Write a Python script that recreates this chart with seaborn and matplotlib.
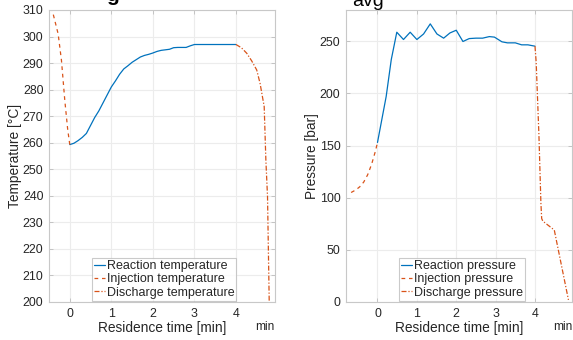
import matplotlib
matplotlib.use("Agg")
import matplotlib.pyplot as plt
import seaborn as sns
import pandas as pd

# ---- data ----
t_inj_x = [-0.44, -0.36, -0.28, -0.20, -0.12, -0.05, 0.0]
t_inj_y = [311.0, 306.0, 301.0, 291.0, 276.0, 265.0, 259.3]

t_rea_x = [0.0, 0.1, 0.2, 0.3, 0.4, 0.5, 0.6, 0.7, 0.8, 0.9, 1.0, 1.1, 1.2, 1.3, 1.4,
           1.5, 1.6, 1.7, 1.8, 1.9, 2.0, 2.1, 2.2, 2.3, 2.4, 2.5, 2.6, 2.7, 2.8, 2.9,
           3.0, 3.2, 3.4, 3.6, 3.8, 4.0]
t_rea_y = [259.3, 259.8, 260.8, 262.0, 263.5, 266.5, 269.5, 272.0, 275.0, 278.0, 281.0,
           283.3, 285.8, 287.8, 289.0, 290.3, 291.3, 292.3, 292.9, 293.3, 293.8, 294.4,
           294.8, 295.0, 295.2, 295.8, 295.9, 295.9, 295.9, 296.5, 297.0, 297.0, 297.0,
           297.0, 297.0, 297.0]

t_dis_x = [4.0, 4.13, 4.26, 4.38, 4.5, 4.58, 4.68, 4.72, 4.76, 4.80, 4.82]
t_dis_y = [297.0, 295.8, 293.7, 290.8, 287.4, 282.4, 273.6, 253.5, 239.7, 200.8, 195.0]

p_inj_x = [-0.67, -0.55, -0.45, -0.35, -0.25, -0.15, -0.05, 0.0]
p_inj_y = [105.0, 107.5, 110.5, 115.0, 122.0, 132.0, 145.0, 153.0]

p_rea_x = [0.0, 0.22, 0.35, 0.49, 0.66, 0.83, 1.0, 1.17, 1.34, 1.51, 1.68, 1.84, 2.0,
           2.17, 2.33, 2.5, 2.67, 2.84, 2.97, 3.16, 3.3, 3.5, 3.66, 3.82, 4.0]
p_rea_y = [153.0, 197.0, 232.5, 258.7, 251.7, 258.7, 251.7, 257.0, 266.7, 257.0, 253.0,
           258.0, 260.6, 249.8, 252.6, 253.0, 253.0, 254.5, 254.0, 249.5, 248.5, 248.5,
           246.6, 246.6, 245.3]

p_dis_x = [4.0, 4.03, 4.10, 4.15, 4.17, 4.20, 4.49, 4.85]
p_dis_y = [245.3, 230.0, 160.0, 95.0, 80.0, 77.5, 69.0, 2.0]

BLUE = "#0072BD"
ORANGE = "#D95319"
TXT = "#262626"

sns.set_theme(style="whitegrid")
plt.rcParams["font.family"] = ["Liberation Sans", "DejaVu Sans"]

W, H = 573, 340
fig = plt.figure(figsize=(W / 100, H / 100), dpi=100)


def px_axes(x0, x1, y0, y1):
    return fig.add_axes([x0 / W, 1 - y1 / H, (x1 - x0) / W, (y1 - y0) / H])


def style(ax):
    ax.set_facecolor("white")
    ax.grid(True, color="#ececec", linewidth=0.8)
    for s in ax.spines.values():
        s.set_visible(True)
        s.set_color("#c8c8c8")
        s.set_linewidth(0.8)
    ax.tick_params(direction="in", length=3, width=0.6, color="#bdbdbd",
                   labelsize=8.9, labelcolor=TXT, pad=4, top=True, right=True,
                   bottom=True, left=True)


def draw(ax, xs, ys, label, color, ls):
    df = pd.DataFrame({"x": xs, "y": ys})
    sns.lineplot(data=df, x="x", y="y", ax=ax, color=color, linestyle=ls,
                 linewidth=0.9, label=label, sort=False, estimator=None)


def legend(ax, x0):
    lg = ax.legend(loc="lower left", bbox_to_anchor=(x0, 0.005), fontsize=9.0,
                   frameon=True, fancybox=False, handlelength=0.9, handletextpad=0.15,
                   borderpad=0.15, labelspacing=0.1, borderaxespad=0)
    lg.get_frame().set_edgecolor("#bdbdbd")
    lg.get_frame().set_linewidth(0.8)
    for t in lg.get_texts():
        t.set_color(TXT)


# left panel
ax1 = px_axes(49, 275, 10, 302)
draw(ax1, t_rea_x, t_rea_y, "Reaction temperature", BLUE, "-")
draw(ax1, t_inj_x, t_inj_y, "Injection temperature", ORANGE, (0, (3, 3)))
draw(ax1, t_dis_x, t_dis_y, "Discharge temperature", ORANGE, (0, (4, 1.5, 1, 1.5)))
ax1.set_xlim(-0.5, 4.94)
ax1.set_ylim(200, 310)
ax1.set_xticks([0, 1, 2, 3, 4])
ax1.set_yticks(list(range(200, 311, 10)))
ax1.set_xlabel("Residence time [min]", fontsize=9.9, color=TXT, labelpad=1)
ax1.set_ylabel("Temperature [°C]", fontsize=9.9, color=TXT, labelpad=0.5)
style(ax1)
legend(ax1, 0.19)

# right panel
ax2 = px_axes(346, 572, 10, 302)
draw(ax2, p_rea_x, p_rea_y, "Reaction pressure", BLUE, "-")
draw(ax2, p_inj_x, p_inj_y, "Injection pressure", ORANGE, (0, (3, 3)))
draw(ax2, p_dis_x, p_dis_y, "Discharge pressure", ORANGE, (0, (4, 1.5, 1, 1.5)))
ax2.set_xlim(-0.8, 4.94)
ax2.set_ylim(0, 280)
ax2.set_xticks([0, 1, 2, 3, 4])
ax2.set_yticks([0, 50, 100, 150, 200, 250])
ax2.set_xlabel("Residence time [min]", fontsize=9.9, color=TXT, labelpad=1)
ax2.set_ylabel("Pressure [bar]", fontsize=9.9, color=TXT, labelpad=0.5)
style(ax2)
legend(ax2, 0.235)

# partial texts at the edges (cut off in the reference as well)
fig.text(265 / W, 1 - 327 / H, "min", fontsize=8.6, color=TXT, ha="center", va="center")
fig.text(553 / W, 1 - 327 / H, "min", fontsize=8.6, color=TXT, ha="left", va="center")
fig.text(352 / W, 1 - 6 / H, "avg", fontsize=14, color="black", ha="left", va="baseline")
fig.text(106 / W, 1 - 1 / H, "g", fontsize=15, color="black", ha="left", va="baseline",
         fontweight="bold")

fig.savefig("out.png", dpi=100)
